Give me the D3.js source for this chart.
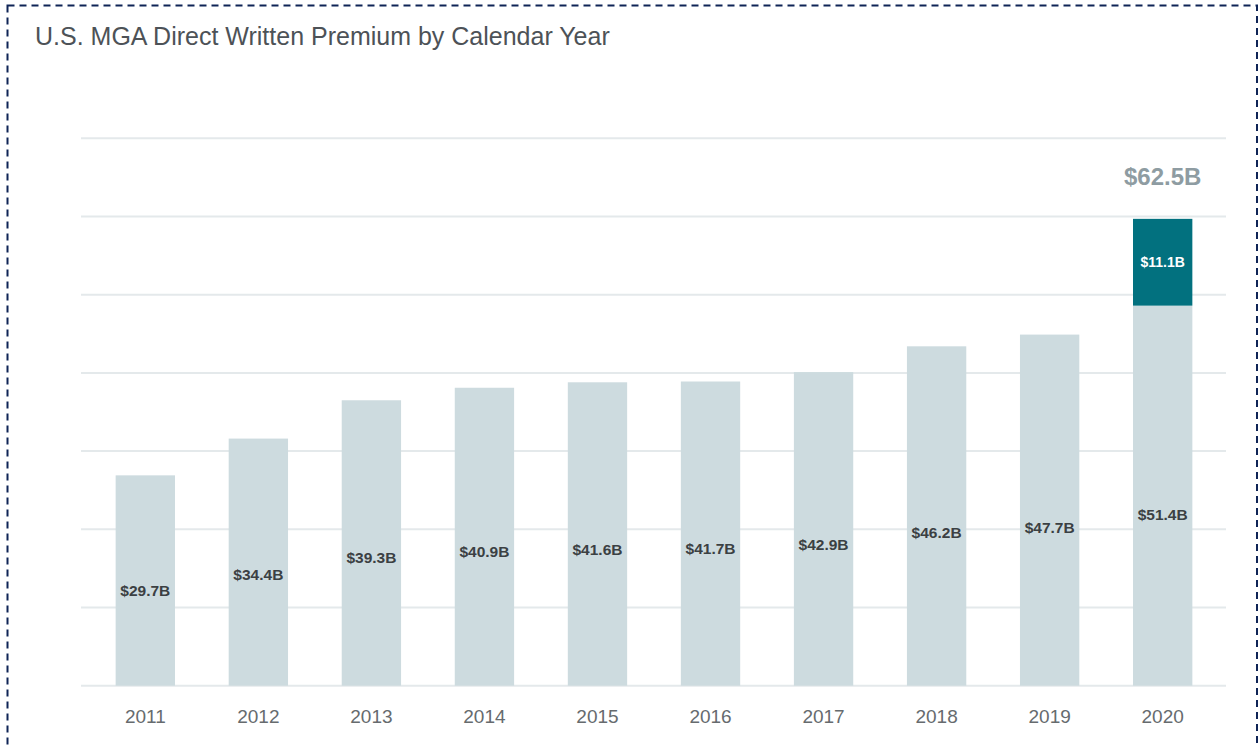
<!DOCTYPE html>
<html>
<head>
<meta charset="utf-8">
<script src="https://cdn.jsdelivr.net/npm/d3@7"></script>
<style>
  html, body { margin: 0; padding: 0; background: #fff; overflow: hidden; }
  #chart { width: 1259px; height: 747px; }
  text { font-family: "Liberation Sans", Arial, Helvetica, sans-serif; }
</style>
</head>
<body>
<div id="chart"></div>
<script>
const YEARS = ["2011", "2012", "2013", "2014", "2015", "2016", "2017", "2018", "2019", "2020"];
const BASE_VALUES = [29.7, 34.4, 39.3, 40.9, 41.6, 41.7, 42.9, 46.2, 47.7, 51.4];
const EXTRA_VALUES = [0, 0, 0, 0, 0, 0, 0, 0, 0, 11.1];
const TOTAL_LABELS = ["", "", "", "", "", "", "", "", "", "$62.5B"];
const Y_FLOOR = 2.8;
const GRID_STEPS = [0, 10, 20, 30, 40, 50, 60, 70];

const COLORS = {
  base: "#cddbdf",
  extra: "#02717f",
  grid: "#e4e9eb",
  label: "#3b4043",
  year: "#666b6e",
  title: "#4d5257",
  total: "#8e9ca2",
  border: "#0f2456",
};

const width = 1259;
const height = 747;

const rows = YEARS.map((year, i) => ({
  year,
  base: BASE_VALUES[i],
  extra: EXTRA_VALUES[i],
  total: TOTAL_LABELS[i],
}));

const svg = d3.select("#chart")
  .append("svg")
  .attr("width", width)
  .attr("height", height);

// dashed frame round the figure
svg.append("rect")
  .attr("x", 7.5)
  .attr("y", 5.5)
  .attr("width", 1249.5)
  .attr("height", 800)
  .attr("fill", "none")
  .attr("stroke", COLORS.border)
  .attr("stroke-width", 2)
  .attr("stroke-dasharray", "7,5");

svg.append("text")
  .attr("x", 35)
  .attr("y", 45)
  .attr("fill", COLORS.title)
  .style("font-size", "25px")
  .text("U.S. MGA Direct Written Premium by Calendar Year");

const x = d3.scaleBand()
  .domain(YEARS)
  .range([88.8, 1219.2])
  .paddingInner(0.475)
  .paddingOuter(0.2375);

const y = d3.scaleLinear()
  .domain([Y_FLOOR, Y_FLOOR + 70])
  .range([685.7, 138.3]);

// gridlines
svg.append("g")
  .selectAll("line")
  .data(GRID_STEPS)
  .join("line")
  .attr("x1", 81)
  .attr("x2", 1226)
  .attr("y1", (d) => y(Y_FLOOR + d))
  .attr("y2", (d) => y(Y_FLOOR + d))
  .attr("stroke", COLORS.grid)
  .attr("stroke-width", 2);

const bars = svg.append("g");

bars.selectAll("rect.base")
  .data(rows)
  .join("rect")
  .attr("class", "base")
  .attr("x", (d) => x(d.year))
  .attr("width", x.bandwidth())
  .attr("y", (d) => y(d.base))
  .attr("height", (d) => y(Y_FLOOR) - y(d.base))
  .attr("fill", COLORS.base);

const extraRows = rows.filter((d) => d.extra > 0);

bars.selectAll("rect.extra")
  .data(extraRows)
  .join("rect")
  .attr("class", "extra")
  .attr("x", (d) => x(d.year))
  .attr("width", x.bandwidth())
  .attr("y", (d) => y(d.base + d.extra))
  .attr("height", (d) => y(d.base) - y(d.base + d.extra))
  .attr("fill", COLORS.extra);

// value labels sit a bit below the middle of each light bar
svg.append("g")
  .selectAll("text")
  .data(rows)
  .join("text")
  .attr("x", (d) => x(d.year) + x.bandwidth() / 2)
  .attr("y", (d) => y(Y_FLOOR) - 0.45 * (y(Y_FLOOR) - y(d.base)))
  .attr("dy", "0.35em")
  .attr("text-anchor", "middle")
  .attr("fill", COLORS.label)
  .style("font-size", "15.5px")
  .style("font-weight", "bold")
  .text((d) => `$${d.base.toFixed(1)}B`);

svg.append("g")
  .selectAll("text")
  .data(extraRows)
  .join("text")
  .attr("x", (d) => x(d.year) + x.bandwidth() / 2)
  .attr("y", (d) => (y(d.base) + y(d.base + d.extra)) / 2)
  .attr("dy", "0.35em")
  .attr("text-anchor", "middle")
  .attr("fill", "#ffffff")
  .style("font-size", "14px")
  .style("font-weight", "bold")
  .text((d) => `$${d.extra.toFixed(1)}B`);

svg.append("g")
  .selectAll("text")
  .data(rows.filter((d) => d.total))
  .join("text")
  .attr("x", (d) => x(d.year) + x.bandwidth() / 2)
  .attr("y", (d) => y(d.base + d.extra) - 34)
  .attr("text-anchor", "middle")
  .attr("fill", COLORS.total)
  .style("font-size", "24px")
  .style("font-weight", "bold")
  .text((d) => d.total);

// year axis
const xAxis = svg.append("g")
  .attr("transform", `translate(0,${y(Y_FLOOR)})`)
  .call(d3.axisBottom(x).tickSize(0).tickPadding(0));

xAxis.select(".domain").remove();
xAxis.selectAll(".tick text")
  .attr("y", 37)
  .attr("dy", 0)
  .attr("fill", COLORS.year)
  .style("font-family", '"Liberation Sans", Arial, sans-serif')
  .style("font-size", "19px");
</script>
</body>
</html>
